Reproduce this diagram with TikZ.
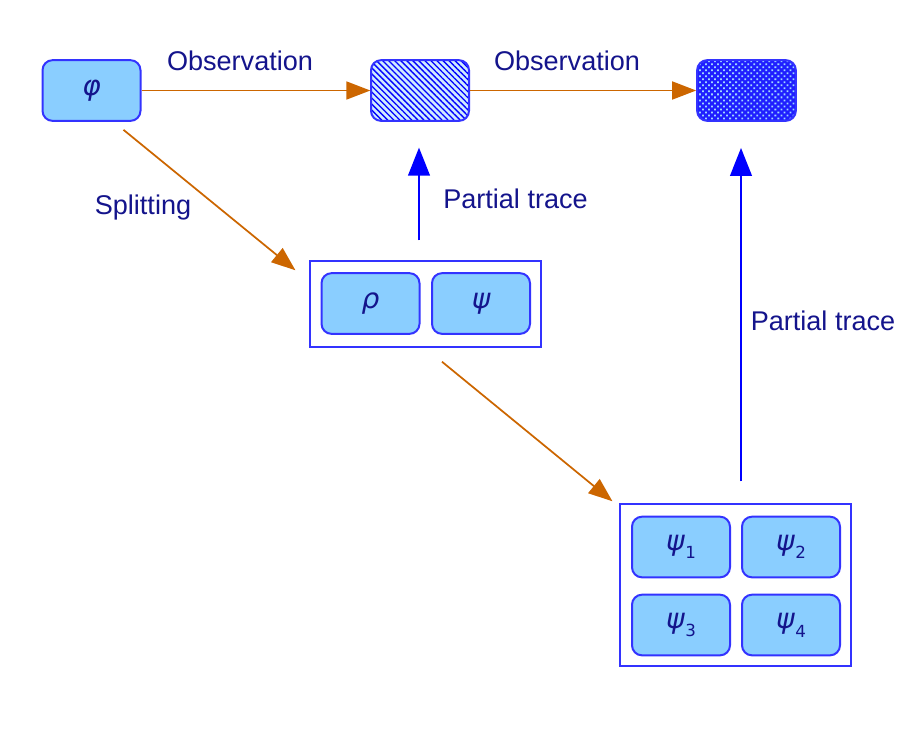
\documentclass[tikz,border=0pt]{standalone}
\usepackage{fontspec}
\setmainfont{Liberation Sans}
\newfontfamily\grk{DejaVu Sans}
\usetikzlibrary{arrows.meta,patterns.meta,calc}
\definecolor{boxfill}{RGB}{138,206,255}
\definecolor{boxline}{RGB}{51,51,255}
\definecolor{txt}{RGB}{20,20,140}
\definecolor{orarrow}{RGB}{204,102,0}
\definecolor{barrow}{RGB}{0,0,255}
\newcommand{\gsub}[1]{\kern0.6pt\raisebox{-6.5pt}{\fontsize{12.5}{12.5}\selectfont\upshape #1}}
\tikzset{
  statebox/.style={draw=boxline, line width=1.5pt, rounded corners=7.5pt, fill=boxfill,
     minimum width=73.5pt, minimum height=45.5pt, inner sep=0pt, text=txt,
     font=\grk\itshape\fontsize{21}{24}\selectfont},
  hatchbox/.style={draw=boxline, line width=1.5pt, rounded corners=7.5pt,
     minimum width=73.5pt, minimum height=45.5pt, inner sep=0pt,
     preaction={fill=boxfill!40}, pattern={Lines[angle=-45,distance=3.2pt,line width=1pt]}, pattern color=barrow},
  dotbox/.style={draw=boxline, line width=1.5pt, rounded corners=7.5pt,
     minimum width=74pt, minimum height=45.5pt, inner sep=0pt,
     preaction={fill=barrow!88!white}, pattern={Dots[angle=45,distance=3.2pt,radius=0.95pt]}, pattern color=boxfill!80!white},
  container/.style={draw=boxline, line width=1.1pt, fill=white, inner sep=0pt},
  lbl/.style={text=txt, font=\fontsize{20.3}{24}\selectfont, inner sep=0pt},
  orline/.style={draw=orarrow, line width=1.3pt, -{Triangle[length=18pt,width=13.5pt]}},
  bline/.style={draw=barrow, line width=2.2pt, -{Triangle[length=21pt,width=16pt]}},
}
\begin{document}
\begin{tikzpicture}[x=0.75pt,y=-0.75pt]
\fill[white] (0,0) rectangle (900,740);
\useasboundingbox (0,0) rectangle (900,740);

% top row
\node[statebox] (phi) at (91.5,90.5) {φ};
\node[hatchbox] (obs1) at (420,90.5) {};
\node[dotbox] (obs2) at (746.5,90.5) {};

% container 1
\node[container, minimum width=173pt, minimum height=64.5pt] (c1) at (425.5,304) {};
\node[statebox] (rho) at (370.5,303.5) {ρ};
\node[statebox] (psi) at (481,303.5) {ψ};

% container 2
\node[container, minimum width=173pt, minimum height=121.5pt] (c2) at (735.5,585) {};
\node[statebox] (p1) at (681,547) {ψ\gsub{1}};
\node[statebox] (p2) at (791,547) {ψ\gsub{2}};
\node[statebox] (p3) at (681,625) {ψ\gsub{3}};
\node[statebox] (p4) at (791,625) {ψ\gsub{4}};

% labels
\node[lbl] (l1) at (240,61) {Observation};
\node[lbl] (l2) at (567,61) {Observation};
\node[lbl] (l3) at (143,207) {Splitting};
\node[lbl] (l4) at (515.5,199) {Partial trace};
\node[lbl] (l5) at (823,321) {Partial trace};

% orange arrows
\draw[orline] (phi.east) -- (obs1.west);
\draw[orline] (obs1.east) -- (obs2.west);
\coordinate (s1) at ($(phi.south east)+(-18,8)$);
\coordinate (e1) at ($(c1.north west)+(-14,10)$);
\draw[orline] (s1) -- (e1);
\coordinate (s2) at ($(c1.south)+(16.5,14)$);
\coordinate (e2) at ($(c2.north west)+(-7,-2)$);
\draw[orline] (s2) -- (e2);

% blue arrows
\coordinate (s3) at ($(c1.north)+(-6.5,-20)$);
\coordinate (e3) at ($(obs1.south)+(-1,26)$);
\draw[bline] (s3) -- (e3);
\coordinate (s4) at ($(c2.north)+(5.5,-22)$);
\coordinate (e4) at ($(obs2.south)+(-5.5,26)$);
\draw[bline] (s4) -- (e4);
\end{tikzpicture}
\end{document}
